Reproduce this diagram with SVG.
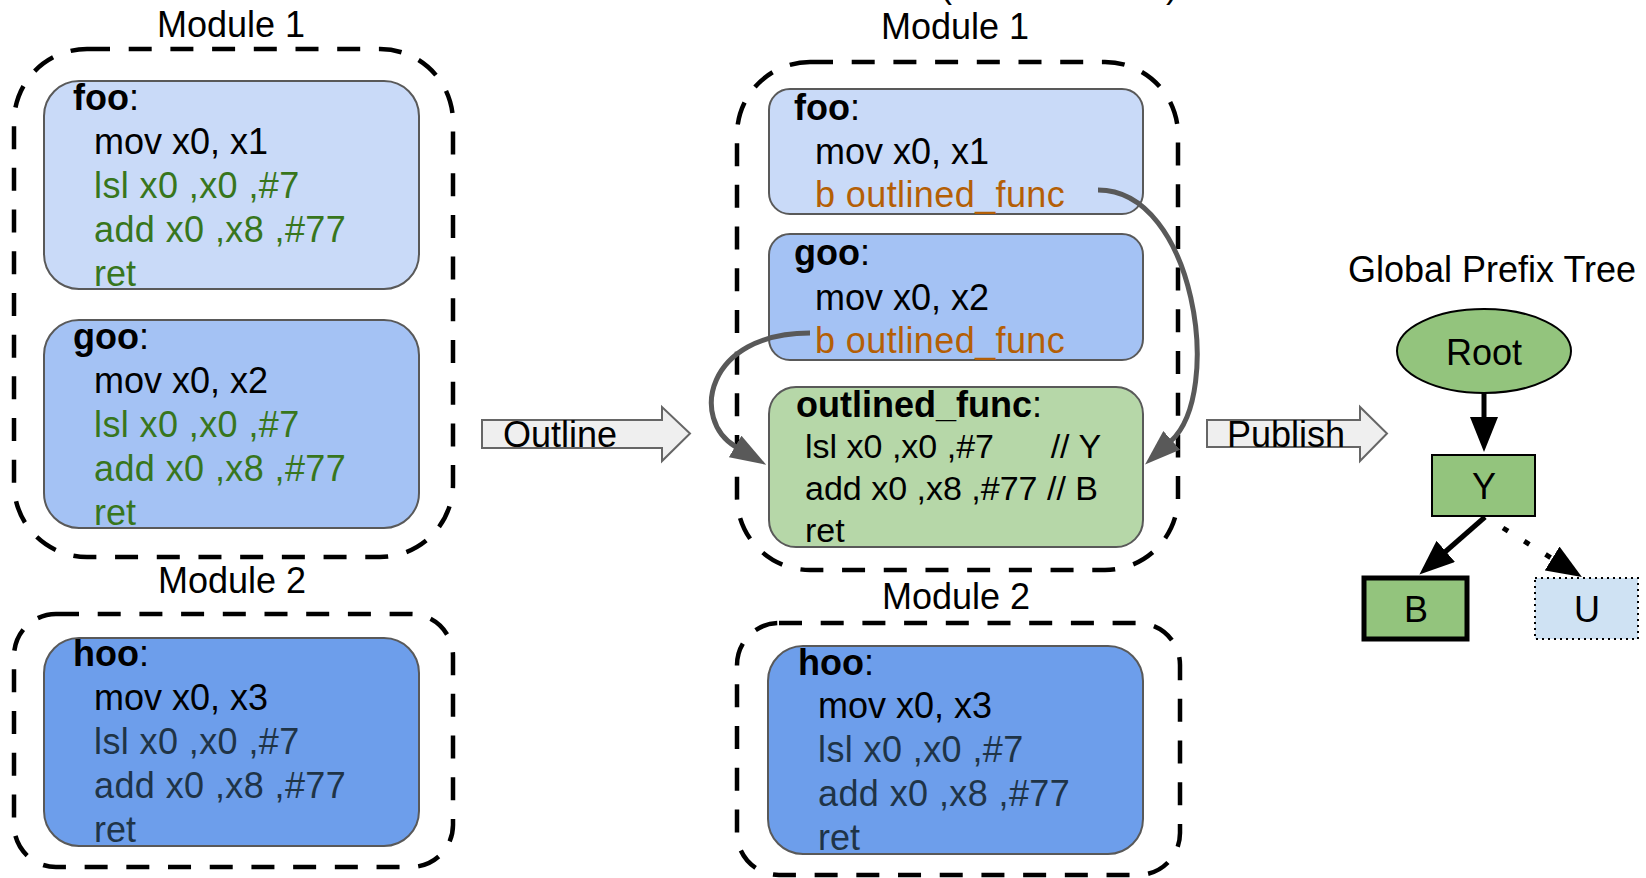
<svg xmlns="http://www.w3.org/2000/svg" width="1646" height="878" viewBox="0 0 1646 878">
  <style>
    text { font-family: "Liberation Sans", Arial, sans-serif; font-size: 36px; fill: #000; }
    .mid { text-anchor: middle; }
    .b { font-weight: bold; }
    .pre { white-space: pre; }
    .sm { font-size: 34px; }
    .code { letter-spacing: 0.4px; }
    .grn { fill: #38761d; }
    .org { fill: #b45f06; }
    .dk { fill: #1f3447; }
    .frame { fill: none; stroke: #000; stroke-width: 4.5; stroke-dasharray: 23 18.7; }
    .fn { stroke: #595959; stroke-width: 2; }
    .c1 { fill: #c9daf8; }
    .c2 { fill: #a4c2f4; }
    .c3 { fill: #6d9eeb; }
    .cg { fill: #b6d7a8; }
    .blk { fill: #efefef; stroke: #666; stroke-width: 2; }
    .call { fill: none; stroke: #595959; stroke-width: 5; marker-end: url(#grayHead); }
    .edge { fill: none; stroke: #000; stroke-width: 5; marker-end: url(#blackHead); }
    .tree { fill: #93c47d; stroke: #000; stroke-width: 2; }
    .thick { stroke-width: 5; }
  </style>
  <defs>
    <marker id="grayHead" markerUnits="userSpaceOnUse" markerWidth="36" markerHeight="25" refX="1" refY="12.5" orient="auto" viewBox="0 0 36 25">
      <path d="M0,0 L36,12.5 L0,25 z" fill="#595959"/>
    </marker>
    <marker id="blackHead" markerUnits="userSpaceOnUse" markerWidth="35" markerHeight="28" refX="1" refY="14" orient="auto" viewBox="0 0 35 28">
      <path d="M0,0 L35,14 L0,28 z" fill="#000"/>
    </marker>
  </defs>

  <!-- header fragments cut by the top edge -->
  <text x="940" y="-3">(</text>
  <text x="1166" y="-3">)</text>

  <!-- ===== before outlining ===== -->
  <g id="left-module1">
    <text class="mid" x="231" y="37">Module 1</text>
    <rect class="frame" x="14" y="49" width="439" height="508" rx="73"/>
  </g>
  <g id="left-foo">
    <rect class="c1 fn" x="44" y="81" width="375" height="208" rx="35"/>
    <text x="73" y="110"><tspan class="b">foo</tspan>:</text>
    <text x="94" y="154">mov x0, x1</text>
    <text class="grn code" x="94" y="198">lsl x0 ,x0 ,#7</text>
    <text class="grn code" x="94" y="242">add x0 ,x8 ,#77</text>
    <text class="grn" x="94" y="286">ret</text>
  </g>
  <g id="left-goo">
    <rect class="c2 fn" x="44" y="320" width="375" height="208" rx="35"/>
    <text x="73" y="349"><tspan class="b">goo</tspan>:</text>
    <text x="94" y="393">mov x0, x2</text>
    <text class="grn code" x="94" y="437">lsl x0 ,x0 ,#7</text>
    <text class="grn code" x="94" y="481">add x0 ,x8 ,#77</text>
    <text class="grn" x="94" y="525">ret</text>
  </g>
  <g id="left-module2">
    <text class="mid" x="232" y="593">Module 2</text>
    <rect class="frame" x="14" y="614" width="439" height="253" rx="42"/>
  </g>
  <g id="left-hoo">
    <rect class="c3 fn" x="44" y="638" width="375" height="208" rx="35"/>
    <text x="73" y="666"><tspan class="b">hoo</tspan>:</text>
    <text x="94" y="710">mov x0, x3</text>
    <text class="dk code" x="94" y="754">lsl x0 ,x0 ,#7</text>
    <text class="dk code" x="94" y="798">add x0 ,x8 ,#77</text>
    <text class="dk" x="94" y="842">ret</text>
  </g>

  <!-- Outline step -->
  <g id="outline-step">
    <polygon class="blk" points="482,420 662,420 662,407 690,433.5 662,461 662,448 482,448"/>
    <text x="503" y="447">Outline</text>
  </g>

  <!-- ===== after outlining ===== -->
  <g id="mid-module1">
    <text class="mid" x="955" y="39">Module 1</text>
    <rect class="frame" x="737" y="62" width="441" height="508" rx="73"/>
  </g>
  <g id="mid-foo">
    <rect class="c1 fn" x="769" y="89" width="374" height="125" rx="21"/>
    <text x="794" y="120"><tspan class="b">foo</tspan>:</text>
    <text x="815" y="164">mov x0, x1</text>
    <text class="org code" x="815" y="207">b outlined_func</text>
  </g>
  <g id="mid-goo">
    <rect class="c2 fn" x="769" y="234" width="374" height="126" rx="21"/>
    <text x="794" y="265"><tspan class="b">goo</tspan>:</text>
    <text x="815" y="310">mov x0, x2</text>
    <text class="org code" x="815" y="353">b outlined_func</text>
  </g>
  <g id="outlined-func">
    <rect class="cg fn" x="769" y="387" width="374" height="160" rx="27"/>
    <text x="796" y="417"><tspan class="b">outlined_func</tspan>:</text>
    <text class="sm pre" x="805" y="458">lsl x0 ,x0 ,#7      // Y</text>
    <text class="sm pre" x="805" y="500">add x0 ,x8 ,#77 // B</text>
    <text class="sm" x="805" y="542">ret</text>
  </g>
  <g id="mid-module2">
    <text class="mid" x="956" y="609">Module 2</text>
    <rect class="frame" x="737" y="623" width="443" height="252" rx="42"/>
  </g>
  <g id="mid-hoo">
    <rect class="c3 fn" x="768" y="646" width="375" height="208" rx="35"/>
    <text x="798" y="675"><tspan class="b">hoo</tspan>:</text>
    <text x="818" y="718">mov x0, x3</text>
    <text class="dk code" x="818" y="762">lsl x0 ,x0 ,#7</text>
    <text class="dk code" x="818" y="806">add x0 ,x8 ,#77</text>
    <text class="dk" x="818" y="850">ret</text>
  </g>

  <!-- Publish step -->
  <g id="publish-step">
    <polygon class="blk" points="1207,420 1360,420 1360,407 1387,433.5 1360,461 1360,447 1207,447"/>
    <text x="1227" y="447">Publish</text>
  </g>

  <!-- ===== prefix tree ===== -->
  <text x="1348" y="282">Global Prefix Tree</text>
  <g id="node-root">
    <ellipse class="tree" cx="1484" cy="351" rx="87" ry="42"/>
    <text class="mid" x="1484" y="365">Root</text>
  </g>
  <g id="node-y">
    <rect class="tree" x="1432" y="455" width="103" height="61"/>
    <text class="mid" x="1484" y="499">Y</text>
  </g>
  <g id="node-b">
    <rect class="tree thick" x="1364" y="578" width="103" height="61"/>
    <text class="mid" x="1416" y="622">B</text>
  </g>
  <g id="node-u">
    <rect x="1535" y="578" width="103" height="61" fill="#cfe2f3" stroke="#000" stroke-width="2" stroke-dasharray="2 4"/>
    <text class="mid" x="1587" y="622">U</text>
  </g>

  <g id="connectors">
    <path class="call" d="M1098,190 C1195,190 1224,393 1171,441"/>
    <path class="call" d="M810,333 C705,333 690,420 736,447"/>
    <path class="edge" d="M1484,393 L1484,418"/>
    <path class="edge" d="M1485,517 L1445,552"/>
    <path class="edge" d="M1503,528 L1553,559" stroke-dasharray="6 19"/>
  </g>
</svg>
